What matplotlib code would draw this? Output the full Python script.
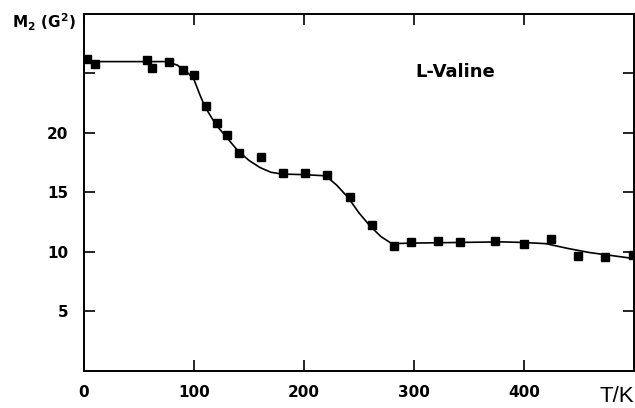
import matplotlib
matplotlib.use('Agg')
import matplotlib.pyplot as plt

# measured points (T in K, M2 in G^2)
temp = [3, 10, 57, 62, 77, 90, 100, 111, 121, 130, 141, 161, 181, 201, 221,
        242, 262, 282, 297, 322, 342, 374, 400, 425, 449, 474, 499]
m2 = [26.2, 25.8, 26.1, 25.5, 26.0, 25.3, 24.9, 22.3, 20.8, 19.8, 18.3, 18.0,
      16.6, 16.6, 16.5, 14.6, 12.3, 10.5, 10.8, 10.9, 10.8, 10.9, 10.7, 11.1,
      9.7, 9.6, 9.75]

# hand-drawn guide curve
curve_t = [0, 20, 40, 60, 75, 85, 95, 100, 105, 110, 120, 130, 140, 150, 160,
           170, 180, 200, 220, 230, 240, 250, 260, 270, 280, 300, 340, 380,
           400, 420, 440, 460, 480, 500]
curve_m = [26.0, 26.0, 26.0, 26.0, 26.0, 25.7, 25.0, 24.5, 23.3, 22.2, 20.7,
           19.6, 18.5, 17.7, 17.1, 16.7, 16.55, 16.5, 16.4, 15.6, 14.6, 13.3,
           12.2, 11.3, 10.7, 10.75, 10.8, 10.85, 10.8, 10.7, 10.3, 9.95, 9.7,
           9.45]

x_ticks = [0, 100, 200, 300, 400]
y_ticks = [5, 10, 15, 20, 25]
y_labels = ['5', '10', '15', '20', '']

plt.rcParams['font.family'] = ['DejaVu Sans']

fig = plt.figure(figsize=(6.35, 4.08), dpi=100)
ax = fig.add_axes([0.1323, 0.0907, 0.8657, 0.875])

ax.plot(curve_t, curve_m, '-', color='black', linewidth=1.2)
ax.plot(temp, m2, 's', color='black', markersize=6)

ax.set_xlim(0, 500)
ax.set_ylim(0, 30)
ax.set_xticks(x_ticks)
ax.set_yticks(y_ticks)
ax.set_yticklabels(y_labels)
ax.tick_params(direction='in', length=8, width=1.2, top=True, right=True,
               labelsize=11)
ax.tick_params(axis='y', pad=11.5)
ax.tick_params(axis='x', pad=10)
for lbl in ax.get_xticklabels() + ax.get_yticklabels():
    lbl.set_fontweight('bold')
for sp in ax.spines.values():
    sp.set_linewidth(1.4)

ax.text(338, 25.1, 'L-Valine', fontsize=13, fontweight='bold',
        ha='center', va='center')
fig.text(0.019, 0.946, r'$\mathbf{M_2}$' + ' (G' + r'$^\mathbf{2}$' + ')',
         fontsize=11, fontweight='bold', ha='left', va='center')
fig.text(0.998, 0.029, 'T/K', fontsize=16, family='Liberation Sans',
         ha='right', va='center')

fig.savefig('out.png', dpi=100)
